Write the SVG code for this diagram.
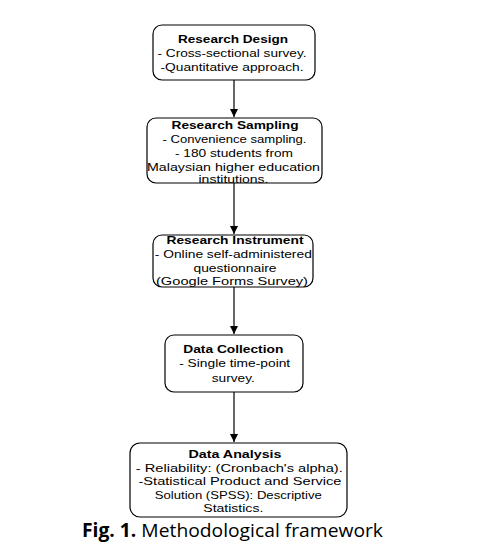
<svg xmlns="http://www.w3.org/2000/svg" width="480" height="556" viewBox="0 0 480 556">
<style>
.box{fill:#fff;stroke:#000;stroke-width:1.2}
.t{font-family:"Liberation Sans",Arial,sans-serif;font-size:11.5px;fill:#000;text-anchor:middle}
.b{font-weight:bold}
.c{stroke:#000;stroke-width:1.2;fill:none}
.cap{font-family:"Open Sans","Liberation Sans",sans-serif;font-size:19px;fill:#000;text-anchor:middle}
</style>
<defs>
<marker id="ah" viewBox="0 0 10 10" refX="10" refY="5" markerWidth="8" markerHeight="8" markerUnits="userSpaceOnUse" orient="auto">
<path d="M0,0 L10,5 L0,10 z" fill="#000"/>
</marker>
</defs>
<rect width="480" height="556" fill="#fff"/>
<g id="connectors">
<line class="c" x1="234" y1="80" x2="234" y2="117" marker-end="url(#ah)"/>
<line class="c" x1="234" y1="183" x2="234" y2="234" marker-end="url(#ah)"/>
<line class="c" x1="234" y1="287" x2="234" y2="334" marker-end="url(#ah)"/>
<line class="c" x1="234" y1="392" x2="234" y2="442" marker-end="url(#ah)"/>
</g>
<g id="design">
<rect class="box" x="153" y="25" width="162" height="55" rx="9"/>
<text class="t b" x="233" y="43" textLength="110" lengthAdjust="spacingAndGlyphs">Research Design</text>
<text class="t" x="232" y="57" textLength="149" lengthAdjust="spacingAndGlyphs">- Cross-sectional survey.</text>
<text class="t" x="232" y="71" textLength="143" lengthAdjust="spacingAndGlyphs">-Quantitative approach.</text>
</g>
<g id="sampling">
<rect class="box" x="147" y="118" width="175" height="65" rx="9"/>
<text class="t b" x="235" y="129" textLength="127" lengthAdjust="spacingAndGlyphs">Research  Sampling</text>
<text class="t" x="234.5" y="143" textLength="144" lengthAdjust="spacingAndGlyphs">- Convenience sampling.</text>
<text class="t" x="234" y="157" textLength="118" lengthAdjust="spacingAndGlyphs">- 180 students from</text>
<text class="t" x="233.5" y="170.5" textLength="173" lengthAdjust="spacingAndGlyphs">Malaysian higher education</text>
<text class="t" x="233.5" y="182.5" textLength="70" lengthAdjust="spacingAndGlyphs">institutions.</text>
</g>
<g id="instrument">
<rect class="box" x="153" y="235" width="160" height="52" rx="9"/>
<text class="t b" x="235" y="244" textLength="137" lengthAdjust="spacingAndGlyphs">Research Instrument</text>
<text class="t" x="233.3" y="258" textLength="157" lengthAdjust="spacingAndGlyphs">- Online self-administered</text>
<text class="t" x="235" y="272" textLength="83" lengthAdjust="spacingAndGlyphs">questionnaire</text>
<text class="t" x="232" y="285" textLength="152" lengthAdjust="spacingAndGlyphs">(Google Forms Survey)</text>
</g>
<g id="collection">
<rect class="box" x="165" y="335" width="138" height="57" rx="9"/>
<text class="t b" x="233.3" y="353" textLength="100" lengthAdjust="spacingAndGlyphs">Data Collection</text>
<text class="t" x="234.7" y="367" textLength="111" lengthAdjust="spacingAndGlyphs">- Single time-point</text>
<text class="t" x="233.3" y="382" textLength="43" lengthAdjust="spacingAndGlyphs">survey.</text>
</g>
<g id="analysis">
<rect class="box" x="130" y="443" width="217" height="74" rx="10"/>
<text class="t b" x="235" y="458" textLength="93" lengthAdjust="spacingAndGlyphs">Data Analysis</text>
<text class="t" x="239.3" y="472" textLength="207" lengthAdjust="spacingAndGlyphs">- Reliability: (Cronbach's alpha).</text>
<text class="t" x="240" y="485" textLength="203" lengthAdjust="spacingAndGlyphs">-Statistical Product and Service</text>
<text class="t" x="238.3" y="499" textLength="167" lengthAdjust="spacingAndGlyphs">Solution (SPSS): Descriptive</text>
<text class="t" x="233.3" y="512" textLength="60" lengthAdjust="spacingAndGlyphs">Statistics.</text>
</g>
<text class="cap" x="232.5" y="537" textLength="301" lengthAdjust="spacingAndGlyphs"><tspan font-weight="bold">Fig. 1.</tspan> Methodological framework</text>
</svg>
